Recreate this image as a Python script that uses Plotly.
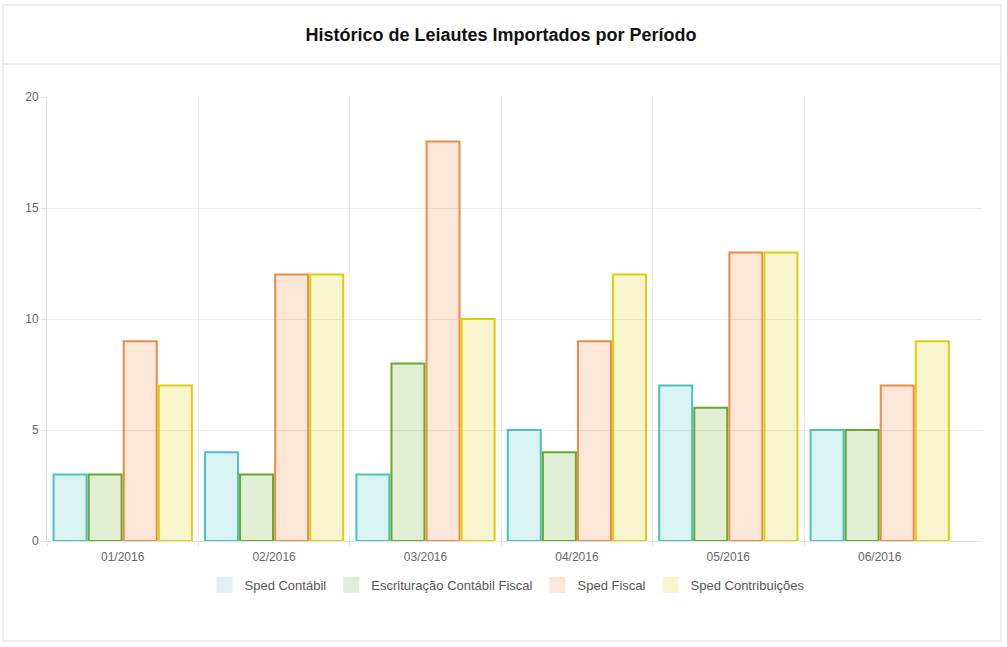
import plotly.graph_objects as go

periods = ["01/2016", "02/2016", "03/2016", "04/2016", "05/2016", "06/2016"]
series_names = ["Sped Contábil", "Escrituração Contábil Fiscal", "Sped Fiscal", "Sped Contribuições"]
sped_contabil = [3, 4, 3, 5, 7, 5]
ecf = [3, 3, 8, 4, 6, 5]
sped_fiscal = [9, 12, 18, 9, 13, 7]
sped_contrib = [7, 12, 10, 12, 13, 9]
series_values = [sped_contabil, ecf, sped_fiscal, sped_contrib]

border_colors = ["rgb(75,192,192)", "rgb(104,168,38)", "rgb(235,140,70)", "rgb(222,205,10)"]
fill_colors = ["rgba(75,192,192,0.2)", "rgba(104,168,38,0.2)", "rgba(235,130,60,0.2)", "rgba(222,205,10,0.2)"]

FONT = "Arial, Liberation Sans, Helvetica, sans-serif"
xs = list(range(len(periods)))

fig = go.Figure()
for name, vals, bc, fc in zip(series_names, series_values, border_colors, fill_colors):
    fig.add_trace(go.Bar(x=xs, y=vals, name=name, marker=dict(color=fc, line=dict(color=bc, width=2)),
                         showlegend=False))
# legend swatches
for name, fc in zip(series_names, fill_colors):
    fig.add_trace(go.Scatter(x=[None], y=[None], mode="markers", name=name,
                             marker=dict(symbol="square", size=18, color=fc, line=dict(width=0))))

W, H = 1007, 647
L, R, T, B = 47, 982, 97, 541
pw, ph = R - L, B - T
def px_x(p):
    return (p - L) / pw
def px_y(p):
    return (B - p) / ph

cat_w = 151.4
xr = [-0.5, -0.5 + pw / cat_w]

fig.update_layout(
    width=W, height=H,
    margin=dict(l=L, r=W - R, t=T, b=H - B),
    paper_bgcolor="white", plot_bgcolor="white",
    font=dict(family=FONT, size=12, color="#666"),
    barmode="group", bargap=0.073, bargroupgap=0.06,
    title=dict(text="<b>Histórico de Leiautes Importados por Período</b>",
               x=501 / W, xref="container", xanchor="center",
               y=1 - 35 / H, yref="container", yanchor="middle",
               font=dict(family=FONT, size=18, color="#111")),
    legend=dict(orientation="h", x=px_x(507), xanchor="center", y=px_y(585), yanchor="middle",
                font=dict(family=FONT, size=13, color="#555"), itemsizing="trace",
                traceorder="normal", itemwidth=30),
    xaxis=dict(range=xr, tickmode="array", tickvals=xs, ticktext=periods, showgrid=False,
               ticks="", zeroline=False, showline=True, linecolor="#e2e2e2", linewidth=1,
               ticklabelstandoff=5,
               tickfont=dict(color="#666", size=12),
               minor=dict(tickmode="array", tickvals=[i - 0.5 for i in xs], showgrid=True,
                          gridcolor="#ececec", gridwidth=1, ticks="outside", ticklen=5,
                          tickcolor="#e2e2e2")),
    yaxis=dict(range=[0, 20], dtick=5, showgrid=True, gridcolor="#ececec", gridwidth=1,
               ticks="outside", ticklen=5, tickcolor="#e2e2e2", zeroline=False,
               showline=True, linecolor="#e2e2e2", linewidth=1,
               tickfont=dict(color="#666", size=12)),
    shapes=[
        dict(type="rect", xref="paper", yref="paper", x0=px_x(3), x1=px_x(1001), y0=px_y(641), y1=px_y(5),
             line=dict(color="#dcdcdc", width=1), fillcolor="rgba(0,0,0,0)", layer="below"),
        dict(type="line", xref="paper", yref="paper", x0=px_x(3), x1=px_x(1001), y0=px_y(64), y1=px_y(64),
             line=dict(color="#dcdcdc", width=1)),
    ],
)

fig.write_html("out.html", config={"displayModeBar": False},
               post_script="document.body.style.margin='0';document.body.style.overflow='hidden';")
